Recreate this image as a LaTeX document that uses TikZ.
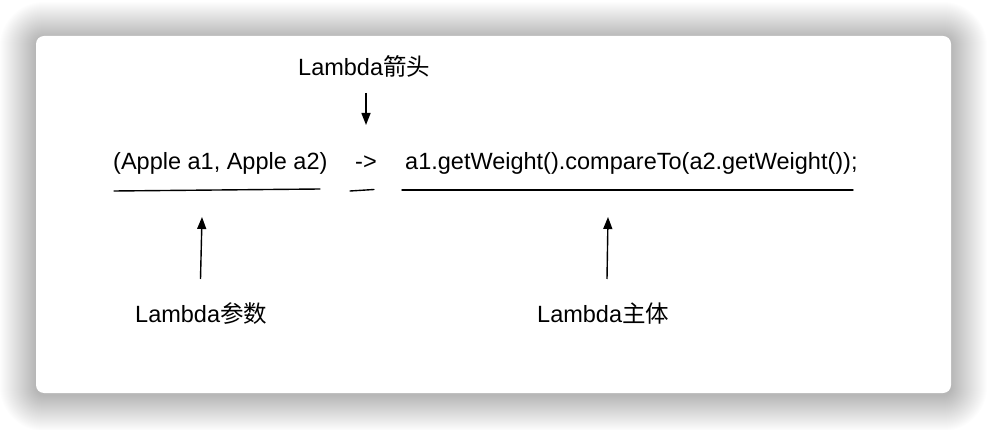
\documentclass[tikz,border=0pt]{standalone}
\usepackage{fontspec}
\setmainfont{Liberation Sans}
\newfontfamily\cjk{Noto Sans CJK SC}
\usetikzlibrary{arrows.meta}
\tikzset{
  lbl/.style={inner sep=0pt, anchor=base west, font=\fontsize{23.5}{27}\selectfont},
  uline/.style={line width=1.4pt, line cap=round},
  ptr/.style={line width=1.4pt, -{Triangle[length=12pt,width=9pt]}},
  cardbox/.style={fill=white, rounded corners=8pt, minimum width=915pt, minimum height=357pt, inner sep=0pt},
}
\begin{document}
\begin{tikzpicture}[x=1pt,y=-1pt]
\useasboundingbox (0,0) rectangle (988,430);
\fill[white] (0,0) rectangle (988,430);
% soft shadow
\foreach \i in {1,...,36} {
  \fill[black, opacity=0.0075, rounded corners={8pt+\i pt}]
    ({36-\i},{38-\i}) rectangle ({951+\i},{395+\i});
}
\node[cardbox] (card) at (493.5,214.5) {};

\node[lbl] (params) at (113,170) {(Apple a1, Apple a2)};
\node[lbl] (arrowtxt) at (355,170) {->};
\node[lbl] (body) at (405,170) {a1.getWeight().compareTo(a2.getWeight());};
\node[lbl] (lhead) at (298,76) {Lambda{\cjk 箭头}};
\node[lbl] (lparam) at (135,323) {Lambda{\cjk 参数}};
\node[lbl] (lbody) at (537,323) {Lambda{\cjk 主体}};

\coordinate (u1a) at (114,191); \coordinate (u1b) at (320,189);
\coordinate (u2a) at (350,191); \coordinate (u2b) at (374,189.5);
\coordinate (u3a) at (402,190); \coordinate (u3b) at (853,190);
\draw[uline] (u1a) -- (u1b);
\draw[uline] (u2a) -- (u2b);
\draw[uline] (u3a) -- (u3b);

\coordinate (d1s) at (366,93); \coordinate (d1e) at (366,125);
\draw[ptr] (d1s) -- (d1e);
\coordinate (p1s) at (200.5,279); \coordinate (p1e) at (202,217);
\draw[ptr] (p1s) -- (p1e);
\coordinate (b1s) at (607,279); \coordinate (b1e) at (608,217);
\draw[ptr] (b1s) -- (b1e);
\end{tikzpicture}
\end{document}
